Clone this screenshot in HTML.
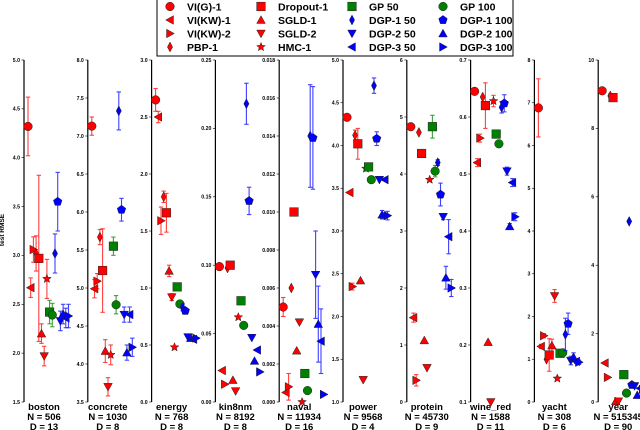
<!DOCTYPE html>
<html><head><meta charset="utf-8"><style>
body{margin:0;background:#fff;}
svg{display:block;font-family:"Liberation Sans","DejaVu Sans",sans-serif;}
</style></head><body>
<svg id="chart" width="640" height="430" viewBox="0 0 640 430"></svg>
<script>
const methods=["VI(G)-1","VI(KW)-1","VI(KW)-2","PBP-1","Dropout-1","SGLD-1","SGLD-2","HMC-1","GP 50","GP 100","DGP-1 50","DGP-1 100","DGP-2 50","DGP-2 100","DGP-3 50","DGP-3 100"];
const legendOrder=[0,1,2,3,4,5,6,7,8,10,12,14,9,11,13,15];
const datasets=["boston","concrete","energy","kin8nm","naval","power","protein","wine_red","yacht","year"];
const sizesN=["506","1030","768","8192","11934","9568","45730","1588","308","515345"];
const sizesD=["13","8","8","8","16","4","9","11","6","90"];
const yMins=[1.5,3.5,0,0,0,1,0,0.1,0,0];
const yMaxs=[5,8,3,0.25,0.018,5,6,0.7,8,10];
const tickSteps=[0.5,0.5,0.5,0.05,0.002,0.5,1,0.1,1,2];
const tickDecimals=[1,1,1,2,3,1,0,1,0,0];
const bostonMean=[4.32,2.67,3.06,3.02,2.97,2.2,1.97,2.76,2.42,2.39,3.02,3.55,2.33,2.4,2.36,2.38];
const bostonErr=[0.3,0.1,0.13,0.18,0.85,0.1,0.1,0.2,0.12,0.12,0.2,0.3,0.1,0.1,0.1,0.12];
const concreteMean=[7.13,4.99,5.09,5.67,5.23,4.17,3.7,4.12,5.55,4.78,7.33,6.03,4.65,4.15,4.65,4.22];
const concreteErr=[0.12,0.12,0.1,0.1,0.55,0.15,0.12,0.13,0.12,0.12,0.25,0.15,0.1,0.1,0.1,0.12];
const energyMean=[2.65,2.5,1.59,1.8,1.66,1.15,0.92,0.48,1.01,0.86,0.83,0.8,0.57,0.56,0.55,0.56];
const energyErr=[0.1,0.05,0.12,0.05,0.17,0.05,0.03,0,0,0,0.03,0,0,0,0,0];
const kin8nmMean=[0.099,0.023,0.013,0.098,0.1,0.016,0.008,0.062,0.074,0.056,0.218,0.147,0.047,0.03,0.038,0.022];
const kin8nmErr=[0,0,0,0,0,0,0,0,0,0,0.015,0.01,0,0,0,0];
const navalMean=[0.005,0.0005,0.0008,0.006,0.01,0.0027,0.0042,0.0000,0.0015,0.0006,0.014,0.0139,0.0067,0.0041,0.0032,0.0004];
const navalErr=[0.0005,0,0.0007,0,0,0,0,0,0,0,0.0027,0.0027,0.0023,0.002,0.0017,0];
const powerMean=[4.33,3.45,2.35,4.12,4.02,2.42,1.26,3.73,3.75,3.6,4.7,4.08,3.6,3.19,3.6,3.18];
const powerErr=[0,0,0.04,0.06,0.18,0,0,0,0,0,0.09,0.08,0,0.05,0,0.05];
const proteinMean=[4.83,1.48,0.38,4.73,4.36,1.08,0.6,3.9,4.83,4.05,4.2,3.64,3.25,2.18,2.9,2.0];
const proteinErr=[0,0.08,0.1,0,0,0,0,0,0.2,0.1,0.05,0.2,0.05,0.2,0.3,0.15];
const wineMean=[0.645,0.52,0.563,0.635,0.62,0.205,0.1,0.628,0.57,0.553,0.617,0.624,0.505,0.408,0.485,0.425];
const wineErr=[0.005,0.007,0.007,0,0.04,0,0,0.01,0,0,0.01,0.015,0.007,0.005,0.007,0.007];
const yachtMean=[6.88,1.3,1.55,1.0,1.1,1.32,2.48,0.55,1.14,1.15,1.58,1.83,0.97,1.05,0.95,0.93];
const yachtErr=[0.68,0.05,0.05,0,0.38,0.15,0.15,0,0,0,0.38,0.25,0.1,0.1,0.05,0.05];
const yearMean=[9.1,1.14,0.72,8.95,8.9,0.02,0.02,null,0.8,0.26,5.28,0.5,0.47,0.2,0.4,0.37];
const yearErr=[0,0,0,0,0,0,0,0,0,0,0,0,0,0,0,0];
const allMeans=[bostonMean,concreteMean,energyMean,kin8nmMean,navalMean,powerMean,proteinMean,wineMean,yachtMean,yearMean];
const allErrs=[bostonErr,concreteErr,energyErr,kin8nmErr,navalErr,powerErr,proteinErr,wineErr,yachtErr,yearErr];

const colors=["red","red","red","red","red","red","red","red","green","green","blue","blue","blue","blue","blue","blue"];
const shapes=["o","<",">","d","s","^","v","*","s","o","d","p","v","^","<",">"];
const NS="http://www.w3.org/2000/svg";
const svg=document.getElementById('chart');
function mk(tag,attrs,parent){const e=document.createElementNS(NS,tag);for(const k in attrs)e.setAttribute(k,attrs[k]);(parent||svg).appendChild(e);return e;}
function marker(shape,cx,cy,col,parent){
  const r=4.3;let e;const st={fill:col,stroke:"#222","stroke-width":0.5};
  if(shape==="o"){e=mk('circle',Object.assign({cx:cx,cy:cy,r:r},st),parent);}
  else if(shape==="s"){e=mk('rect',Object.assign({x:cx-r,y:cy-r,width:2*r,height:2*r},st),parent);}
  else{let pts;
    if(shape==="^")pts=[[0,-r],[r,r*0.8],[-r,r*0.8]];
    else if(shape==="v")pts=[[0,r],[r,-r*0.8],[-r,-r*0.8]];
    else if(shape==="<")pts=[[-r,0],[r*0.8,-r],[r*0.8,r]];
    else if(shape===">")pts=[[r,0],[-r*0.8,-r],[-r*0.8,r]];
    else if(shape==="d")pts=[[0,-r*1.15],[r*0.6,0],[0,r*1.15],[-r*0.6,0]];
    else if(shape==="p"){pts=[];for(let k=0;k<5;k++){const a=-Math.PI/2+k*2*Math.PI/5;pts.push([r*1.05*Math.cos(a),r*1.05*Math.sin(a)]);}}
    else if(shape==="*"){pts=[];for(let k=0;k<10;k++){const a=-Math.PI/2+k*Math.PI/5;const rr=k%2?r*0.45:r*1.05;pts.push([rr*Math.cos(a),rr*Math.sin(a)]);}}
    e=mk('polygon',Object.assign({points:pts.map(p=>(cx+p[0]).toFixed(2)+","+(cy+p[1]).toFixed(2)).join(" ")},st),parent);}
  return e;
}
const yTop=60,yBot=402;
datasets.forEach((name,di)=>{
  const g=mk('g',{});
  
  
  const x0=24+di*63.8;
  const ymin=yMins[di],ymax=yMaxs[di];
  const yS=v=>yBot-(v-ymin)/(ymax-ymin)*(yBot-yTop);
  const ax=mk('line',{x1:x0,y1:yTop,x2:x0,y2:yBot,stroke:"#000","stroke-width":1.2},g);
  
  
  const n=Math.round((ymax-ymin)/tickSteps[di]);
  for(let k=0;k<=n;k++){const v=ymin+k*tickSteps[di];const y=yS(v);
    mk('line',{x1:x0-2.5,y1:y,x2:x0,y2:y,stroke:"#000","stroke-width":0.6},g);
    const t=mk('text',{x:x0-4,y:y+1.8,"font-size":5.2,"font-weight":"bold","text-anchor":"end",fill:"#000"},g);
    
    
    t.textContent=v.toFixed(tickDecimals[di]);}
  const means=allMeans[di],errs=allErrs[di];
  means.forEach((m,i)=>{ if(m===null)return;
    const cx=x0+4+i*2.7; const cy=yS(m); const e=errs[i];
    if(e>0){const y1=yS(m+e),y2=yS(m-e);
      const eb=mk('g',{stroke:colors[i],"stroke-width":1.1,opacity:0.75},g);
      
      
      mk('line',{x1:cx,y1:y1,x2:cx,y2:y2},eb);
      mk('line',{x1:cx-2.2,y1:y1,x2:cx+2.2,y2:y1},eb);
      mk('line',{x1:cx-2.2,y1:y2,x2:cx+2.2,y2:y2},eb);}
    const mm=marker(shapes[i],cx,cy,colors[i],g);
    
    
  });
  const lx=x0+20;
  [[name,410],["N = "+sizesN[di],420],["D = "+sizesD[di],430]].forEach(([s,y])=>{
    const t=mk('text',{x:lx,y:y,"font-size":9.5,"font-weight":"bold","text-anchor":"middle",fill:"#000"},g);
    
    
    t.textContent=s;});
});
const yl=mk('text',{x:0,y:0,"font-size":6.5,"font-weight":"bold","text-anchor":"middle",transform:"translate(4,230) rotate(-90)"});


yl.textContent="test RMSE";
const lg=mk('g',{});


mk('rect',{x:157,y:-2,width:356,height:58,fill:"#fff",stroke:"#000","stroke-width":1},lg);
legendOrder.forEach((i,pos)=>{const col=Math.floor(pos/4),row=pos%4;
  const mx=170+col*91,my=6.5+row*13.5;
  const ent=mk('g',{},lg);
  
  
  marker(shapes[i],mx,my,colors[i],ent);
  const t=mk('text',{x:mx+17,y:my+4,"font-size":10.5,"font-weight":"bold",fill:"#000"},ent);
  t.textContent=methods[i];});
</script>
</body></html>
